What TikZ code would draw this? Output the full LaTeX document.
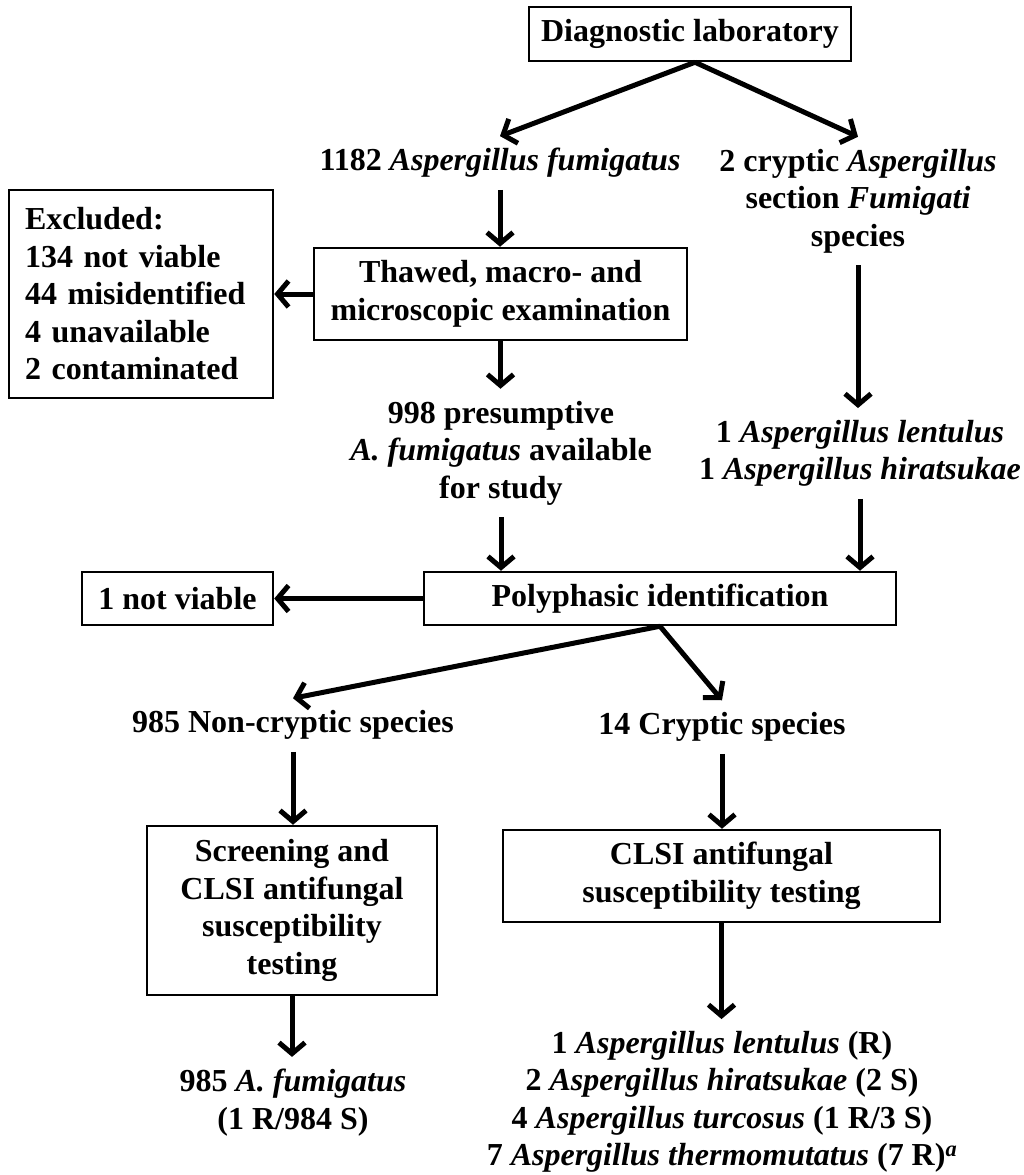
\documentclass[tikz,border=0pt]{standalone}
\usepackage{fontspec}
\setmainfont{Liberation Serif}
\usetikzlibrary{arrows.meta,calc}
\newcommand\myfs{\fontsize{32}{37.5}\selectfont\bfseries}
\tikzset{
  boxnode/.style={draw, line width=2.5pt, font=\myfs, align=center, inner sep=0pt},
  txt/.style={font=\myfs, align=center, inner sep=12pt},
  arr/.style={line width=5pt, -{Straight Barb[length=11pt,width=26pt,line width=5pt]}},
}
\begin{document}
\begin{tikzpicture}[x=1pt,y=-1pt]
\useasboundingbox[fill=white] (0,0) rectangle (1024,1175);
% boxes
\node[boxnode, minimum width=322pt, minimum height=54pt] (diag) at (690,34) {Diagnostic laboratory};
\node[boxnode, minimum width=373pt, minimum height=92pt] (thawed) at (500.5,294) {Thawed, macro- and\\microscopic examination};
\node[boxnode, draw, align=left, text width=232pt, inner xsep=16pt, minimum height=208pt] (excl) at (141,294) {Excluded:\\134 not viable\\44 misidentified\\4 unavailable\\2 contaminated};
\node[boxnode, minimum width=472pt, minimum height=53pt] (poly) at (660,598.5) {Polyphasic identification};
\node[boxnode, minimum width=191pt, minimum height=53pt] (nv) at (177.5,598.5) {1 not viable};
\node[boxnode, minimum width=290pt, minimum height=169pt] (screen) at (292,910.5) {Screening and\\CLSI antifungal\\susceptibility\\testing};
\node[boxnode, minimum width=437pt, minimum height=92pt] (clsi) at (721.5,876) {CLSI antifungal\\susceptibility testing};
% texts
\node[txt] (t1182) at (500,163) {1182 \textit{Aspergillus fumigatus}};
\node[txt] (t2cr) at (858,201) {2 cryptic \textit{Aspergillus}\\section \textit{Fumigati}\\species};
\node[txt] (t998) at (501,453) {998 presumptive\\\textit{A. fumigatus} available\\for study};
\node[txt] (tlen) at (860,453.5) {1 \textit{Aspergillus lentulus}\\1 \textit{Aspergillus hiratsukae}};
\node[txt] (tnc) at (293,725) {985 Non-cryptic species};
\node[txt] (t14) at (722,727) {14 Cryptic species};
\node[txt] (t985) at (293,1102.5) {985 \textit{A. fumigatus}\\(1 R/984 S)};
\node[txt] (tfin) at (722,1102) {1 \textit{Aspergillus lentulus} (R)\\2 \textit{Aspergillus hiratsukae} (2 S)\\4 \textit{Aspergillus turcosus} (1 R/3 S)\\7 \textit{Aspergillus thermomutatus} (7 R)\textsuperscript{\textit{a}}};
% connectors
\draw[arr] ([xshift=5pt]diag.south) -- (t1182.north);
\draw[arr] ([xshift=5pt]diag.south) -- (t2cr.north);
\draw[arr] (t1182.south) -- (t1182.south |- thawed.north);
\draw[arr] (thawed.west) -- (excl.east |- thawed.west);
\draw[arr] (thawed.south) -- (thawed.south |- t998.north);
\draw[arr] (t2cr.south) -- (t2cr.south |- tlen.north);
\draw[arr] (t998.south) -- (t998.south |- poly.north);
\draw[arr] (tlen.south) -- (tlen.south |- poly.north);
\draw[arr] (poly.west) -- (nv.east);
\draw[arr] (poly.south) -- (tnc.north);
\draw[arr] (poly.south) -- (t14.north);
\draw[arr] (tnc.south) -- (tnc.south |- screen.north);
\draw[arr] (t14.south) -- (t14.south |- clsi.north);
\draw[arr] (screen.south) -- (screen.south |- t985.north);
\draw[arr] (clsi.south) -- (clsi.south |- tfin.north);
\end{tikzpicture}
\end{document}
